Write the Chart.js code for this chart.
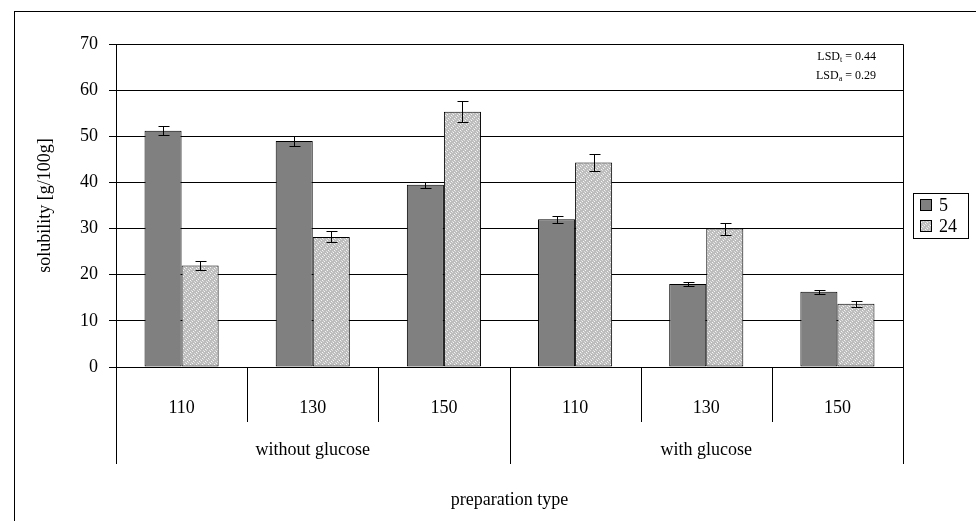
<!DOCTYPE html>
<html>
<head>
<meta charset="utf-8">
<script src="https://cdn.jsdelivr.net/npm/chart.js@4"></script>
<style>
  html, body { margin: 0; padding: 0; background: #fff; }
  #wrap { width: 976px; height: 521px; position: relative; }
</style>
</head>
<body>
<div id="wrap"><canvas id="chart"></canvas></div>
<script>
// Данные графика
const tempLabels = ['110', '130', '150', '110', '130', '150'];
const groupLabels = ['without glucose', 'with glucose'];
const groupSizes = [3, 3];
const seriesNames = ['5', '24'];
const values5 = [51.2, 49.0, 39.5, 32.0, 18.0, 16.3];
const values24 = [22.0, 28.2, 55.3, 44.3, 30.0, 13.7];
const errors5 = [1.0, 1.0, 0.7, 0.7, 0.4, 0.4];
const errors24 = [1.0, 1.2, 2.3, 1.8, 1.3, 0.6];
const yTicks = [0, 10, 20, 30, 40, 50, 60, 70];
const lsdLines = [['LSD', 't', ' = 0.44'], ['LSD', 'a', ' = 0.29']];

const FONT = '"Liberation Serif", "Times New Roman", serif';

// Узор для второй серии (светло-серая сетка)
function makePattern() {
    const c = document.createElement('canvas');
    c.width = 6; c.height = 6;
    const g = c.getContext('2d');
    g.fillStyle = '#bdbdbd';
    g.fillRect(0, 0, 6, 6);
    g.fillStyle = '#f6f6f6';
    g.fillRect(1, 1, 1, 1);
    g.fillRect(4, 4, 1, 1);
    g.fillRect(0, 3, 1, 1);
    g.fillRect(3, 0, 1, 1);
    g.fillStyle = '#dedede';
    g.fillRect(2, 2, 1, 1);
    g.fillRect(5, 5, 1, 1);
    g.fillRect(2, 5, 1, 1);
    g.fillRect(5, 2, 1, 1);
    return g.createPattern(c, 'repeat');
}
const pattern24 = makePattern();

// Планки погрешностей
const errorBars = {
    id: 'errorBars',
    afterDatasetsDraw(chart) {
        const ctx = chart.ctx;
        const y = chart.scales.y;
        const errs = [errors5, errors24];
        ctx.save();
        ctx.strokeStyle = '#000';
        ctx.lineWidth = 1;
        chart.data.datasets.forEach((ds, di) => {
            chart.getDatasetMeta(di).data.forEach((bar, i) => {
                const v = ds.data[i], e = errs[di][i];
                const x = Math.round(bar.x) + 0.5;
                const top = Math.round(y.getPixelForValue(v + e)) + 0.5;
                const bot = Math.round(y.getPixelForValue(v - e)) + 0.5;
                ctx.beginPath();
                ctx.moveTo(x, top); ctx.lineTo(x, bot);
                ctx.moveTo(x - 5, top); ctx.lineTo(x + 6, top);
                ctx.moveTo(x - 5, bot); ctx.lineTo(x + 6, bot);
                ctx.stroke();
            });
        });
        ctx.restore();
    }
};

// Подписи под осью, легенда, рамка, LSD
const decorations = {
    id: 'decorations',
    afterDraw(chart) {
        const ctx = chart.ctx;
        const x = chart.scales.x;
        const area = chart.chartArea;
        const n = tempLabels.length;
        const step = (area.right - area.left) / n;
        ctx.save();
        ctx.strokeStyle = '#000';
        ctx.fillStyle = '#000';
        ctx.lineWidth = 1;

        // внешняя рамка
        ctx.strokeRect(14.5, 11.5, 1000, 1000);

        // рамка области построения (верх и право)
        ctx.beginPath();
        ctx.moveTo(area.left, Math.round(area.top) + 0.5);
        ctx.lineTo(Math.round(area.right) + 0.5, Math.round(area.top) + 0.5);
        ctx.lineTo(Math.round(area.right) + 0.5, area.bottom);
        ctx.stroke();

        // разделители категорий
        const base = Math.round(area.bottom);
        let idx = 0;
        const groupEdges = [0];
        groupSizes.forEach(s => { idx += s; groupEdges.push(idx); });
        ctx.beginPath();
        for (let i = 0; i <= n; i++) {
            const px = Math.round(area.left + step * i) + 0.5;
            const long = groupEdges.includes(i);
            ctx.moveTo(px, base);
            ctx.lineTo(px, base + (long ? 97 : 55));
        }
        ctx.stroke();

        // подписи температур
        ctx.font = '18px ' + FONT;
        ctx.textAlign = 'center';
        ctx.textBaseline = 'middle';
        tempLabels.forEach((t, i) => {
            ctx.fillText(t, x.getPixelForValue(i), base + 41);
        });

        // подписи групп
        groupLabels.forEach((g, gi) => {
            const cx = area.left + step * (groupEdges[gi] + groupEdges[gi + 1]) / 2;
            ctx.fillText(g, cx, base + 83);
        });

        // подпись оси X
        ctx.fillText('preparation type', (area.left + area.right) / 2, 500);

        // подпись оси Y
        ctx.save();
        ctx.translate(45, (area.top + area.bottom) / 2);
        ctx.rotate(-Math.PI / 2);
        ctx.fillText('solubility [g/100g]', 0, 0);
        ctx.restore();

        // LSD (выравнивание по правому краю)
        ctx.textAlign = 'left';
        ctx.textBaseline = 'alphabetic';
        lsdLines.forEach((l, i) => {
            const yy = 60 + i * 19;
            ctx.font = '12px ' + FONT;
            const w0 = ctx.measureText(l[0]).width;
            const w2 = ctx.measureText(l[2]).width;
            ctx.font = '8px ' + FONT;
            const w1 = ctx.measureText(l[1]).width;
            let xx = 876 - (w0 + w1 + w2);
            ctx.font = '12px ' + FONT;
            ctx.fillText(l[0], xx, yy);
            xx += w0;
            ctx.font = '8px ' + FONT;
            ctx.fillText(l[1], xx, yy + 2);
            xx += w1;
            ctx.font = '12px ' + FONT;
            ctx.fillText(l[2], xx, yy);
        });

        // легенда
        ctx.strokeRect(913.5, 193.5, 55, 45);
        const fills = ['#808080', pattern24];
        seriesNames.forEach((s, i) => {
            const yy = 205 + i * 21;
            ctx.fillStyle = fills[i];
            ctx.fillRect(920, yy - 6, 12, 12);
            ctx.strokeStyle = '#000';
            ctx.strokeRect(920.5, yy - 5.5, 11, 11);
            ctx.fillStyle = '#000';
            ctx.font = '18px ' + FONT;
            ctx.textBaseline = 'middle';
            ctx.fillText(s, 939, yy + 1);
        });
        ctx.restore();
    }
};

new Chart(document.getElementById('chart'), {
    type: 'bar',
    data: {
        labels: tempLabels,
        datasets: [{
            label: seriesNames[0],
            data: values5,
            backgroundColor: '#808080',
            borderColor: '#000',
            borderWidth: 1,
            borderSkipped: false,
            categoryPercentage: 0.565,
            barPercentage: 1.0
        }, {
            label: seriesNames[1],
            data: values24,
            backgroundColor: pattern24,
            borderColor: '#000',
            borderWidth: 1,
            borderSkipped: false,
            categoryPercentage: 0.565,
            barPercentage: 1.0
        }]
    },
    options: {
        responsive: true,
        maintainAspectRatio: false,
        animation: false,
        devicePixelRatio: 1,
        layout: {
            padding: { top: 44, right: 73, bottom: 154, left: 0 }
        },
        plugins: {
            legend: { display: false },
            tooltip: { enabled: false }
        },
        scales: {
            x: {
                ticks: { display: false },
                grid: { display: false },
                border: { display: true, color: '#000', width: 1 },
                afterFit: s => { s.height = 0; }
            },
            y: {
                min: 0,
                max: 70,
                afterFit: s => { s.width = 116; },
                afterBuildTicks: s => { s.ticks = yTicks.map(v => ({ value: v })); },
                ticks: {
                    color: '#000',
                    padding: 11,
                    font: { family: FONT, size: 18 }
                },
                grid: {
                    color: '#000',
                    lineWidth: 1,
                    tickLength: 7
                },
                border: { display: true, color: '#000', width: 1 }
            }
        }
    },
    plugins: [errorBars, decorations]
});
</script>
</body>
</html>
